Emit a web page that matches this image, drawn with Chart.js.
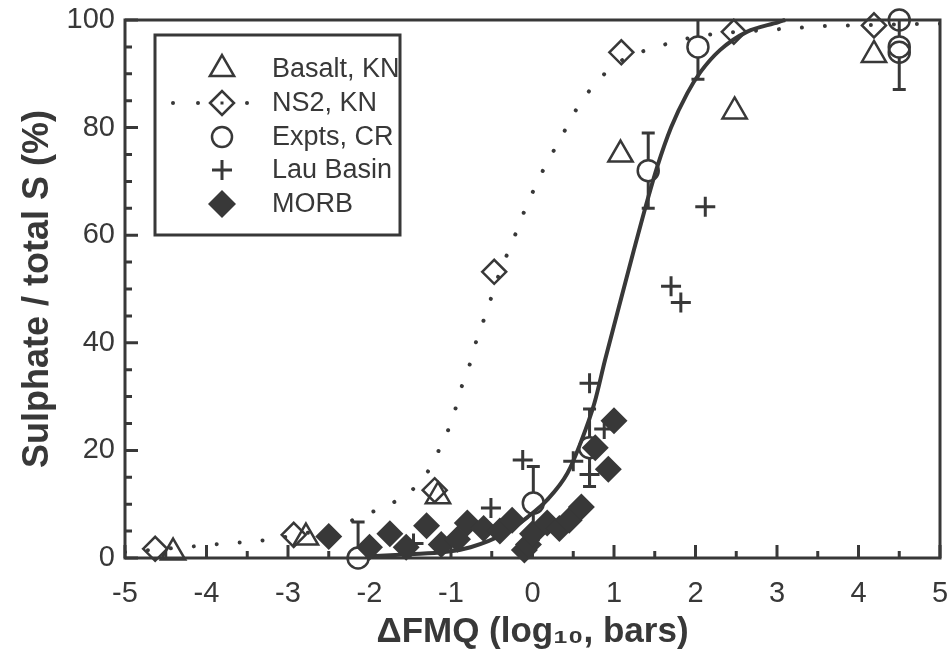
<!DOCTYPE html>
<html><head><meta charset="utf-8">
<script src="https://cdn.jsdelivr.net/npm/chart.js@4.4.1/dist/chart.umd.min.js"></script>
<style>html,body{margin:0;padding:0;background:#fff;}#wrap{width:950px;height:651px;position:relative;}</style>
</head><body><div id="wrap"><canvas id="c" width="950" height="651"></canvas></div>
<script>
const INK = '#383838';
const FONT = '"Liberation Sans", Arial, Helvetica, sans-serif';

// axis ranges / tick labels
const xTickValues = [-5,-4,-3,-2,-1,0,1,2,3,4,5];
const yTickValues = [0,20,40,60,80,100];
const xTitle = 'ΔFMQ (log₁₀, bars)';
const yTitle = 'Sulphate / total S (%)';
const seriesNames = ['Basalt, KN','NS2, KN','Expts, CR','Lau Basin','MORB'];

// Basalt, KN (open triangles)
const basaltX = [-4.41,-2.78,-1.16,1.08,2.48,4.19];
const basaltY = [1.0,3.8,11.5,75,83,93.5];

// NS2, KN (open diamonds)
const ns2X = [-4.63,-2.93,-1.2,-0.47,1.09,2.47,4.19];
const ns2Y = [1.7,4.3,12.6,53.2,94,97.8,99];

// NS2 dotted curve
const ns2CurveX = [-5,-4.6,-4.2,-3.78,-3.49,-3.19,-2.9,-2.6,-2.33,-2.06,-1.79,-1.53,-1.32,-1.18,-1.05,-0.95,-0.87,-0.77,-0.69,-0.59,-0.5,-0.4,-0.29,-0.18,-0.07,0.05,0.18,0.33,0.47,0.62,0.81,1.0,1.29,1.57,1.85,2.14,2.43,2.73,3.02,3.32,3.61,3.92,4.5,5];
const ns2CurveY = [1.1,1.6,2.1,2.7,3.0,3.5,4.3,5.2,6.3,8,9.7,12,15.2,19.1,23.2,27.5,31.8,36,40.3,44.6,48.7,53.2,57.2,61.3,65.6,69.5,73.6,77.5,81.6,85.3,88.8,91.6,93.8,95.2,96.4,97.2,97.7,98,98.3,98.6,98.9,99,99.2,99.3];

// Expts, CR (open circles with error bars)
const exptX = [-2.14,0.01,0.7,1.42,2.03,4.5,4.5,4.5];
const exptY = [0,10.2,20.5,72,95,100,95,94];
const exptErr = [6.7,6.8,7.2,7,6,0,7.9,0];

// Lau Basin (plus)
const lauX = [-1.46,-0.51,-0.12,0.5,0.7,0.88,0.7,1.7,1.82,2.12];
const lauY = [2.7,9.3,18.2,18,32.5,24,15.5,50.5,47.5,65.3];

// MORB (filled diamonds)
const morbX = [-2.5,-2.0,-1.75,-1.55,-1.3,-1.12,-0.92,-0.8,-0.6,-0.4,-0.25,-0.1,-0.05,0.0,0.18,0.33,0.45,0.6,0.77,0.93,1.0];
const morbY = [4,2,4.5,2,6,2.5,3.5,6.5,5.5,5,7,1.5,2.5,4.5,6.5,5.5,7,9.5,20.5,16.5,25.5];

// solid fitted curve
const fitX = [-2.05,-1.5,-1.08,-0.76,-0.34,-0.06,0.18,0.43,0.59,0.76,0.89,1.04,1.24,1.41,1.53,1.7,1.9,2.06,2.3,2.63,3.02,3.1];
const fitY = [0.3,0.7,1.1,2,4.6,7.6,10.8,15.8,21.4,28.8,36.8,45.5,57,66.5,72.7,80,86.4,90.3,94.4,97.8,99.6,100];

const pts = (xs, ys) => xs.map((v, i) => ({x: v, y: ys[i]}));

const STYLE = {
  basalt: {pointStyle: 'triangle', radius: 14, fill: 'rgba(0,0,0,0)', bw: 2.5},
  ns2: {pointStyle: 'rectRot', radius: 12, fill: 'rgba(0,0,0,0)', bw: 2.5},
  expt: {pointStyle: 'circle', radius: 10.5, fill: 'rgba(0,0,0,0)', bw: 2.5},
  lau: {pointStyle: 'cross', radius: 10, fill: 'rgba(0,0,0,0)', bw: 3},
  morb: {pointStyle: 'rectRot', radius: 13.5, fill: INK, bw: 0}
};

function pointDs(label, data, s, extra) {
  return Object.assign({
    label, data, showLine: false, clip: false,
    pointStyle: s.pointStyle, pointRadius: s.radius, pointHoverRadius: s.radius,
    pointBackgroundColor: s.fill, pointBorderColor: INK, pointBorderWidth: s.bw
  }, extra || {});
}

const ticksPlugin = {
  id: 'frameTicks',
  beforeDatasetsDraw(chart) {
    const {ctx, chartArea: a, scales: {x, y}} = chart;
    ctx.save();
    ctx.strokeStyle = INK; ctx.lineWidth = 3; ctx.lineCap = 'butt';
    ctx.beginPath();
    for (let v = x.min; v <= x.max + 1e-9; v += 0.5) {
      const px = x.getPixelForValue(v);
      const len = Math.abs(v - Math.round(v)) < 1e-6 ? 13 : 7;
      ctx.moveTo(px, a.bottom); ctx.lineTo(px, a.bottom - len);
    }
    for (let v = y.min; v <= y.max + 1e-9; v += 5) {
      const py = y.getPixelForValue(v);
      const len = (Math.round(v) % 20 === 0) ? 13 : 7;
      ctx.moveTo(a.left, py); ctx.lineTo(a.left + len, py);
    }
    ctx.stroke();
    ctx.strokeRect(a.left, a.top, a.right - a.left, a.bottom - a.top);
    // error bars
    ctx.save();
    ctx.beginPath(); ctx.rect(a.left, a.top, a.right - a.left, a.bottom - a.top); ctx.clip();
    ctx.lineWidth = 3;
    ctx.beginPath();
    const r = STYLE.expt.radius, cap = 6.5;
    for (let i = 0; i < exptX.length; i++) {
      const e = exptErr[i];
      if (!e) continue;
      const px = x.getPixelForValue(exptX[i]);
      const py = y.getPixelForValue(exptY[i]);
      const t = y.getPixelForValue(exptY[i] + e);
      const b = y.getPixelForValue(exptY[i] - e);
      ctx.moveTo(px, py - r); ctx.lineTo(px, t);
      ctx.moveTo(px - cap, t); ctx.lineTo(px + cap, t);
      ctx.moveTo(px, py + r); ctx.lineTo(px, b);
      ctx.moveTo(px - cap, b); ctx.lineTo(px + cap, b);
    }
    ctx.stroke();
    ctx.restore();
    ctx.restore();
  }
};

const legendPlugin = {
  id: 'boxLegend',
  afterDraw(chart) {
    const {ctx} = chart;
    const box = {l: 155, t: 35, r: 400, b: 235};
    ctx.save();
    ctx.fillStyle = '#fff';
    ctx.fillRect(box.l, box.t, box.r - box.l, box.b - box.t);
    ctx.strokeStyle = INK; ctx.lineWidth = 3;
    ctx.strokeRect(box.l, box.t, box.r - box.l, box.b - box.t);
    const rows = [69, 103, 137, 170, 204];
    const styles = [STYLE.basalt, STYLE.ns2, STYLE.expt, STYLE.lau, STYLE.morb];
    const sx = 222, tx = 272;
    ctx.fillStyle = INK;
    [173, 198, 247].forEach(dx => { ctx.beginPath(); ctx.arc(dx, rows[1], 2, 0, Math.PI * 2); ctx.fill(); });
    styles.forEach((s, i) => {
      ctx.fillStyle = s.fill;
      ctx.strokeStyle = INK;
      ctx.lineWidth = s.bw;
      const rad = (s === STYLE.morb) ? 14 : (s === STYLE.expt ? 10 : s.radius);
      Chart.helpers.drawPoint(ctx, {pointStyle: s.pointStyle, radius: rad, borderWidth: s.bw, rotation: 0}, sx, rows[i]);
    });
    ctx.fillStyle = INK;
    ctx.fillRect(sx - 1.5, rows[1] - 1.5, 3, 3);
    ctx.font = '27px ' + FONT;
    ctx.textBaseline = 'middle';
    ctx.textAlign = 'left';
    seriesNames.forEach((n, i) => ctx.fillText(n, tx, rows[i] + 1));
    ctx.restore();
  }
};

new Chart(document.getElementById('c'), {
  type: 'scatter',
  data: {
    datasets: [
      pointDs(seriesNames[4], pts(morbX, morbY), STYLE.morb),
      pointDs(seriesNames[3], pts(lauX, lauY), STYLE.lau),
      pointDs(seriesNames[2], pts(exptX, exptY), STYLE.expt),
      pointDs(seriesNames[1], pts(ns2X, ns2Y), STYLE.ns2),
      pointDs(seriesNames[0], pts(basaltX, basaltY), STYLE.basalt),
      {label: 'fit', data: pts(fitX, fitY), showLine: true, pointRadius: 0, borderColor: INK,
       borderWidth: 4, cubicInterpolationMode: 'monotone', clip: false, fill: false},
      {label: 'ns2 fit', data: pts(ns2CurveX, ns2CurveY), showLine: true, pointRadius: 0, borderColor: INK,
       borderWidth: 4, borderDash: [0.01, 23], borderCapStyle: 'round', cubicInterpolationMode: 'monotone', fill: false}
    ]
  },
  options: {
    responsive: false, animation: false, devicePixelRatio: 1,
    layout: {autoPadding: false, padding: {left: 0, right: 10, top: 20, bottom: 0}},
    plugins: {legend: {display: false}, tooltip: {enabled: false}},
    scales: {
      x: {
        type: 'linear', min: -5, max: 5,
        afterBuildTicks: s => { s.ticks = xTickValues.map(v => ({value: v})); },
        afterFit: s => { s.height = 93; s.paddingLeft = 0; s.paddingRight = 0; },
        grid: {display: false, drawTicks: false}, border: {display: false},
        ticks: {color: INK, padding: 19, font: {family: FONT, size: 29}, maxRotation: 0, autoSkip: false},
        title: {display: true, text: xTitle, color: INK, font: {family: FONT, size: 35, weight: 'bold', lineHeight: 1}, padding: {top: 0, bottom: 1}}
      },
      y: {
        type: 'linear', min: 0, max: 100,
        afterBuildTicks: s => { s.ticks = yTickValues.map(v => ({value: v})); },
        afterFit: s => { s.width = 125; s.paddingTop = 0; s.paddingBottom = 0; },
        grid: {display: false, drawTicks: false}, border: {display: false},
        ticks: {color: INK, padding: 10, font: {family: FONT, size: 29}, autoSkip: false},
        title: {display: true, text: yTitle, color: INK, font: {family: FONT, size: 36, weight: 'bold', lineHeight: 1}, padding: {top: 20, bottom: 0}}
      }
    }
  },
  plugins: [ticksPlugin, legendPlugin]
});
</script></body></html>
